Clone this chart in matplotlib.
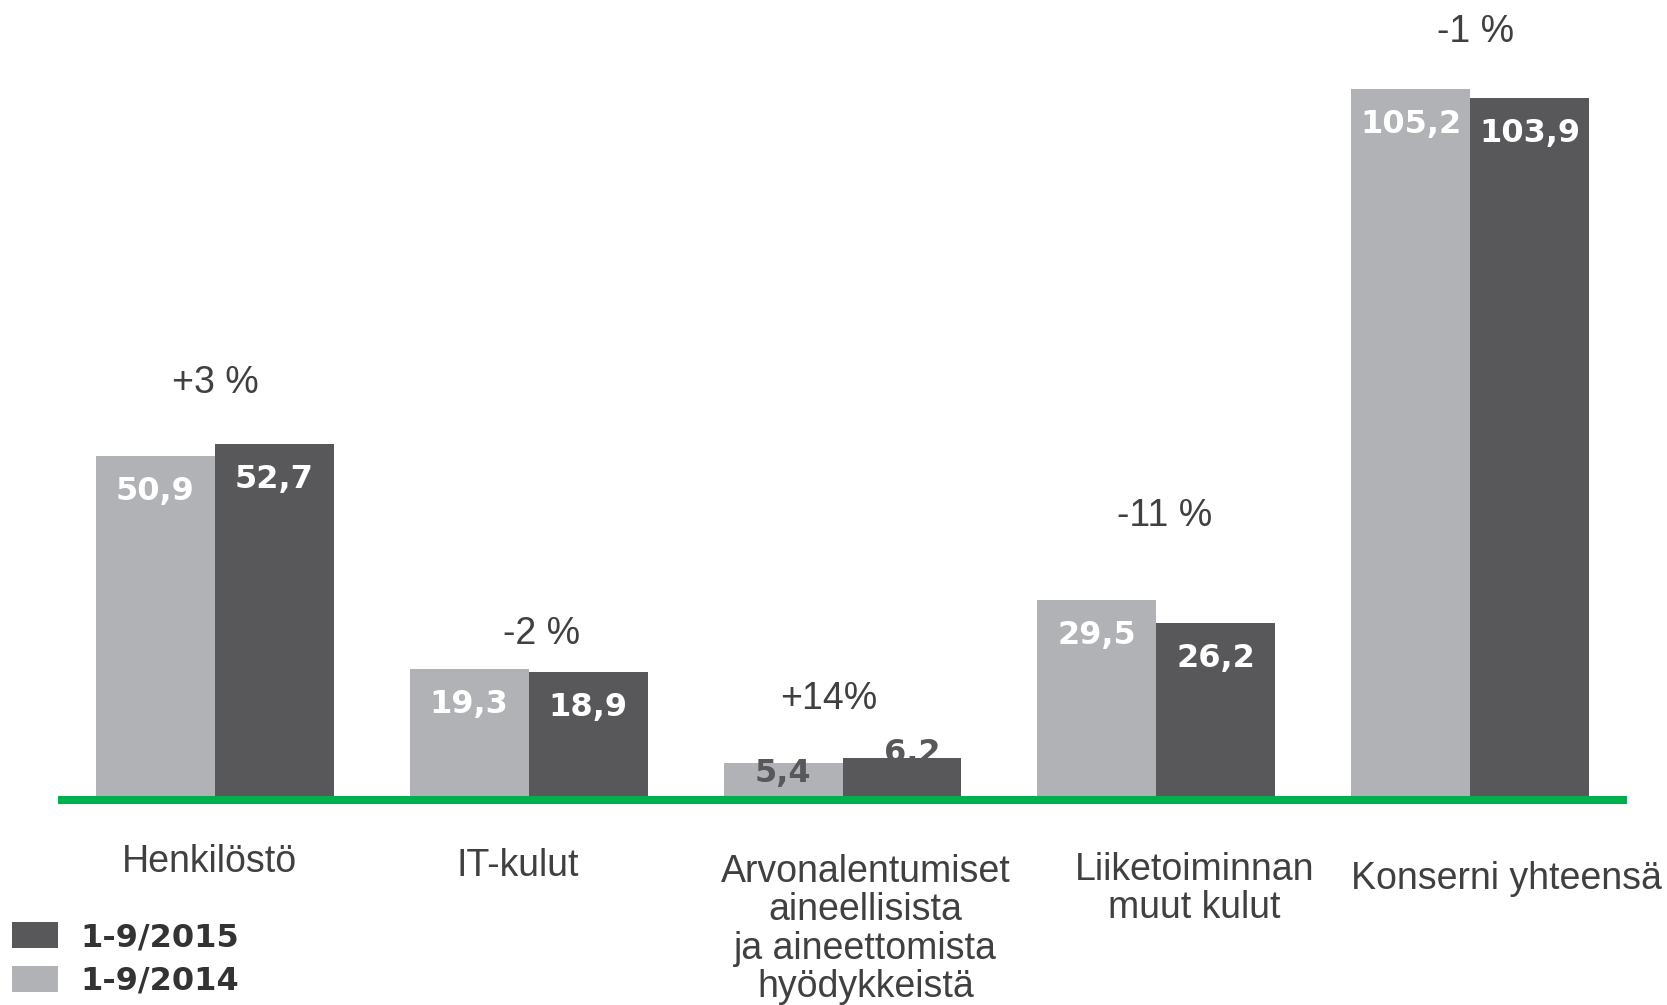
import matplotlib
matplotlib.use("Agg")
import matplotlib.pyplot as plt
import numpy as np

# ---- data ----
categories = ["Henkilöstö", "IT-kulut",
              "Arvonalentumiset\naineellisista\nja aineettomista\nhyödykkeistä",
              "Liiketoiminnan\nmuut kulut", "Konserni yhteensä"]
values_2014 = [50.9, 19.3, 5.4, 29.5, 105.2]
values_2015 = [52.7, 18.9, 6.2, 26.2, 103.9]
change_labels = ["+3 %", "-2 %", "+14%", "-11 %", "-1 %"]
series_names = ["1-9/2015", "1-9/2014"]

# ---- styling / layout ----
LIGHT = "#b1b2b6"
DARK = "#58585a"
GREEN = "#00b04f"
TEXT = "#404040"

W, H = 1667, 1005
fig = plt.figure(figsize=(W / 100, H / 100), dpi=100)
base_px = 799.5
px_per_unit = 6.75
ax = fig.add_axes([58 / W, (H - base_px) / H, 1569 / W, base_px / H])
ax.set_xlim(-0.5, 4.5)
ax.set_ylim(0, base_px / px_per_unit)
ax.axis("off")

x = np.arange(len(categories))
bw = 0.379
b14 = ax.bar(x - bw / 2, values_2014, bw, color=LIGHT, zorder=2)
b15 = ax.bar(x + bw / 2, values_2015, bw, color=DARK, zorder=2)

# green baseline
ax.axhline(0, color=GREEN, lw=5.8, zorder=3, solid_capstyle="butt", clip_on=False)

# value labels inside bars (offset pixels from bar top: dx, dy of baseline)
val_font = dict(family="DejaVu Sans", fontweight="bold", fontsize=23)
lbl14_off = [(0, -44), (0, -44), (0, -19), (0, -44), (0, -44)]
lbl15_off = [(0, -44), (0, -44), (10, -4), (0, -44), (0, -44)]
lbl_col14 = ["white", "white", DARK, "white", "white"]
lbl_col15 = ["white", "white", DARK, "white", "white"]
for i in range(len(categories)):
    ax.annotate(f"{values_2014[i]:.1f}".replace(".", ","),
                xy=(x[i] - bw / 2, values_2014[i]), xytext=lbl14_off[i],
                textcoords="offset pixels", ha="center", va="baseline",
                color=lbl_col14[i], zorder=4, **val_font)
    ax.annotate(f"{values_2015[i]:.1f}".replace(".", ","),
                xy=(x[i] + bw / 2, values_2015[i]), xytext=lbl15_off[i],
                textcoords="offset pixels", ha="center", va="baseline",
                color=lbl_col15[i], zorder=1 if i == 2 else 4, **val_font)

# change labels above groups
chg_off = [(0, 61), (13, 35), (-14, 59), (8, 84), (5, 57)]
for i in range(len(categories)):
    top = max(values_2014[i], values_2015[i])
    ax.annotate(change_labels[i], xy=(x[i], top), xytext=chg_off[i],
                textcoords="offset pixels", ha="center", va="center",
                fontsize=27, family="Liberation Sans", color=TEXT)

# category labels below baseline
cat_off = [(-5, -44), (-11, -48), (23, -54), (38, -52), (36, -61)]
for i, c in enumerate(categories):
    ax.annotate(c, xy=(x[i], 0), xytext=cat_off[i], textcoords="offset pixels",
                ha="center", va="top", multialignment="center",
                fontsize=27, family="Liberation Sans", color=TEXT,
                linespacing=1.09, annotation_clip=False)

# legend
fs = 23
fig.legend([b15, b14], series_names, loc="upper left",
           bbox_to_anchor=(12 / W, (H - 922) / H), frameon=False,
           borderpad=0, borderaxespad=0, handlelength=1.44, handleheight=0.88,
           handletextpad=0.69, labelspacing=0.4,
           prop=dict(family="DejaVu Sans", weight="bold", size=fs),
           labelcolor="#333333")

fig.savefig("out.png", dpi=100)
